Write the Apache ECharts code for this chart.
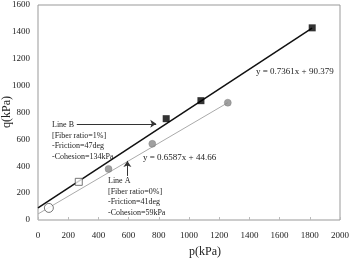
<!DOCTYPE html>
<html>
<head>
<meta charset="utf-8">
<script src="https://cdn.jsdelivr.net/npm/echarts@6/dist/echarts.min.js"></script>
<style>
html, body { margin: 0; padding: 0; background: #fff; }
#chart { width: 352px; height: 259px; }
</style>
</head>
<body>
<div id="chart"></div>
<script>
// tick values
var xTicks = [0, 200, 400, 600, 800, 1000, 1200, 1400, 1600, 1800, 2000]
var yTicks = [0, 200, 400, 600, 800, 1000, 1200, 1400, 1600]

// Line B (fiber ratio 1%)
var lineBFit = [[0, 90], [1815, 1427]]
var lineBPts = [[849, 754], [1079, 888], [1816, 1430]]
var lineBOpen = [[270, 284]]

// Line A (fiber ratio 0%)
var lineAFit = [[0, 45], [1257, 873]]
var lineAPts = [[467, 380], [757, 567], [1257, 873]]
var lineAOpen = [[72, 90]]

// arrows (data coords)
var arrowB = [[257, 716], [783, 716]]
var arrowA = [[592, 328], [592, 440]]

var FONT = 'Liberation Serif'

var chart = echarts.init(document.getElementById('chart'))

var option = {
    animation: false,
    textStyle: { fontFamily: FONT },
    grid: {
        left: 38, top: 5, width: 305, height: 215,
        show: true, borderColor: '#999', borderWidth: 1
    },
    xAxis: {
        type: 'value', min: xTicks[0], max: xTicks[xTicks.length - 1], interval: 200,
        axisLine: { show: false },
        axisTick: { show: true, inside: true, length: 3, lineStyle: { color: '#bbb' } },
        splitLine: { show: false },
        axisLabel: { fontFamily: FONT, fontSize: 9, color: '#222', margin: 11, formatter: function (v) { return String(v) } }
    },
    yAxis: {
        type: 'value', min: yTicks[0], max: yTicks[yTicks.length - 1], interval: 200,
        axisLine: { show: false },
        axisTick: { show: false },
        splitLine: { show: false },
        axisLabel: { fontFamily: FONT, fontSize: 9, color: '#222', margin: 8, formatter: function (v) { return String(v) } }
    },
    series: [
        {
            type: 'line', data: lineAFit, symbol: 'none',
            lineStyle: { color: '#aaa', width: 1 }, z: 2,
            markLine: {
                silent: true, symbol: ['none', 'arrow'], symbolSize: 6,
                lineStyle: { color: '#333', width: 1, type: 'solid' },
                label: { show: false },
                data: [[{ coord: arrowA[0] }, { coord: arrowA[1] }]]
            }
        },
        {
            type: 'line', data: lineBFit, symbol: 'none',
            lineStyle: { color: '#111', width: 1.5 }, z: 2,
            markLine: {
                silent: true, symbol: ['none', 'arrow'], symbolSize: 6,
                lineStyle: { color: '#333', width: 1, type: 'solid' },
                label: { show: false },
                data: [[{ coord: arrowB[0] }, { coord: arrowB[1] }]]
            }
        },
        {
            type: 'scatter', data: lineAPts, symbol: 'circle', symbolSize: 7,
            itemStyle: { color: '#888', borderColor: '#777', borderWidth: 0.5 }, z: 3
        },
        {
            type: 'scatter', data: lineAOpen, symbol: 'circle', symbolSize: 9,
            itemStyle: { color: '#fff', borderColor: '#555', borderWidth: 1 }, z: 3
        },
        {
            type: 'scatter', data: lineBPts, symbol: 'rect', symbolSize: 7,
            itemStyle: { color: '#000' }, z: 3
        },
        {
            type: 'scatter', data: lineBOpen, symbol: 'rect', symbolSize: 7,
            itemStyle: { color: '#fff', borderColor: '#555', borderWidth: 1 }, z: 3
        }
    ],
    graphic: [
        // axis titles
        { type: 'text', x: 205, y: 252, style: { text: 'p(kPa)', font: '12px ' + FONT, fill: '#222', align: 'center', verticalAlign: 'middle' } },
        { type: 'text', x: 7, y: 112, rotation: Math.PI / 2, style: { text: 'q(kPa)', font: '12px ' + FONT, fill: '#222', align: 'center', verticalAlign: 'middle' } },
        // annotations
        { type: 'text', left: 256, top: 67, style: { text: 'y = 0.7361x + 90.379', font: '9px ' + FONT, fill: '#222' } },
        { type: 'text', left: 143, top: 153, style: { text: 'y = 0.6587x + 44.66', font: '9px ' + FONT, fill: '#222' } },
        { type: 'text', left: 52, top: 120, style: { text: 'Line B\n[Fiber ratio=1%]\n-Friction=47deg\n-Cohesion=134kPa', font: '8px ' + FONT, fill: '#222', lineHeight: 10.5 } },
        { type: 'text', left: 108, top: 176, style: { text: 'Line A\n[Fiber ratio=0%]\n-Friction=41deg\n-Cohesion=59kPa', font: '8px ' + FONT, fill: '#222', lineHeight: 10.5 } }
    ]
}

chart.setOption(option)
</script>
</body>
</html>
